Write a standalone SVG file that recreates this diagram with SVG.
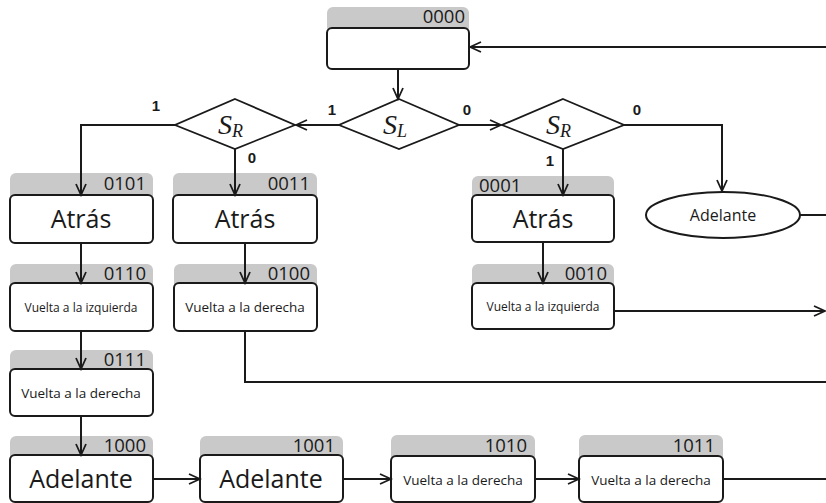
<svg xmlns="http://www.w3.org/2000/svg" width="826" height="503" viewBox="0 0 826 503">
  <style>
    .tab { fill: #c9c9c9; }
    .box { fill: #ffffff; stroke: #1a1a1a; stroke-width: 2; }
    .dia { fill: #ffffff; stroke: #1a1a1a; stroke-width: 1.8; }
    .code { font-family: "Open Sans", "Liberation Sans", sans-serif; font-size: 18.5px; fill: #1a1a1a; }
    .big { font-family: "Open Sans", "Liberation Sans", sans-serif; font-size: 25px; fill: #1a1a1a; text-anchor: middle; }
    .der { font-family: "Open Sans", "Liberation Sans", sans-serif; font-size: 13.5px; fill: #1a1a1a; text-anchor: middle; }
    .izq { font-family: "Open Sans", "Liberation Sans", sans-serif; font-size: 12px; fill: #1a1a1a; text-anchor: middle; }
    .mid { font-family: "Open Sans", "Liberation Sans", sans-serif; font-size: 16px; fill: #1a1a1a; text-anchor: middle; }
    .var { font-family: "Liberation Serif", serif; font-style: italic; fill: #1a1a1a; }
    .bit { font-family: "Liberation Sans", sans-serif; font-weight: bold; font-size: 15px; fill: #1a1a1a; text-anchor: middle; }
    .wire { fill: none; stroke: #1a1a1a; stroke-width: 2; }
  </style>
  <defs>
    <marker id="arrow" markerWidth="14" markerHeight="12" refX="12" refY="6" orient="auto" markerUnits="userSpaceOnUse">
      <path d="M1,1 L12,6 L1,11" fill="none" stroke="#1a1a1a" stroke-width="1.8"/>
    </marker>
  </defs>

  <rect width="826" height="503" fill="#ffffff"/>

  <!-- state 0000 -->
  <g id="s0000">
    <rect class="tab" x="327" y="7" width="142" height="26" rx="6"/>
    <rect class="box" x="327" y="28" width="142" height="41" rx="5"/>
    <text class="code" x="465" y="23" text-anchor="end">0000</text>
  </g>

  <!-- decision S_L -->
  <g id="dSL">
    <polygon class="dia" points="399,99 459,125 399,149 339,125"/>
    <text class="var" x="383" y="134" font-size="28">S<tspan font-size="18" dy="3">L</tspan></text>
  </g>

  <!-- decision S_R (left) -->
  <g id="dSR1">
    <polygon class="dia" points="235,99 295,125 235,149 175,125"/>
    <text class="var" x="218" y="134" font-size="28">S<tspan font-size="18" dy="3">R</tspan></text>
  </g>

  <!-- decision S_R (right) -->
  <g id="dSR2">
    <polygon class="dia" points="563,99 624,125 563,149 502,125"/>
    <text class="var" x="546" y="134" font-size="28">S<tspan font-size="18" dy="3">R</tspan></text>
  </g>

  <!-- column 1 -->
  <g id="s0101">
    <rect class="tab" x="10" y="173" width="143" height="28" rx="6"/>
    <rect class="box" x="10" y="195" width="143" height="48" rx="5"/>
    <text class="code" x="146" y="190" text-anchor="end">0101</text>
    <text class="big" x="81" y="228">Atrás</text>
  </g>
  <g id="s0110">
    <rect class="tab" x="10" y="264" width="143" height="26" rx="6"/>
    <rect class="box" x="10" y="283" width="143" height="48" rx="5"/>
    <text class="code" x="146" y="280" text-anchor="end">0110</text>
    <text class="izq" x="81" y="312">Vuelta a la izquierda</text>
  </g>
  <g id="s0111">
    <rect class="tab" x="10" y="350" width="143" height="26" rx="6"/>
    <rect class="box" x="10" y="369" width="143" height="47" rx="5"/>
    <text class="code" x="146" y="366" text-anchor="end">0111</text>
    <text class="der" x="81" y="398">Vuelta a la derecha</text>
  </g>
  <g id="s1000">
    <rect class="tab" x="10" y="436" width="143" height="26" rx="6"/>
    <rect class="box" x="10" y="455" width="143" height="47" rx="5"/>
    <text class="code" x="146" y="452" text-anchor="end">1000</text>
    <text class="big" x="81" y="488">Adelante</text>
  </g>

  <!-- column 2 -->
  <g id="s0011">
    <rect class="tab" x="173" y="173" width="144" height="28" rx="6"/>
    <rect class="box" x="173" y="195" width="144" height="48" rx="5"/>
    <text class="code" x="310" y="190" text-anchor="end">0011</text>
    <text class="big" x="245" y="228">Atrás</text>
  </g>
  <g id="s0100">
    <rect class="tab" x="174" y="264" width="143" height="26" rx="6"/>
    <rect class="box" x="174" y="283" width="143" height="48" rx="5"/>
    <text class="code" x="310" y="280" text-anchor="end">0100</text>
    <text class="der" x="245" y="312">Vuelta a la derecha</text>
  </g>

  <!-- column 3 -->
  <g id="s0001">
    <rect class="tab" x="472" y="176" width="142" height="26" rx="6"/>
    <rect class="box" x="472" y="195" width="142" height="47" rx="5"/>
    <text class="code" x="479" y="192">0001</text>
    <text class="big" x="543" y="228">Atrás</text>
  </g>
  <g id="s0010">
    <rect class="tab" x="472" y="264" width="142" height="26" rx="6"/>
    <rect class="box" x="472" y="283" width="142" height="46" rx="5"/>
    <text class="code" x="607" y="280" text-anchor="end">0010</text>
    <text class="izq" x="543" y="311">Vuelta a la izquierda</text>
  </g>

  <!-- forward output -->
  <g id="oAdelante">
    <ellipse class="box" cx="723" cy="215" rx="77" ry="23"/>
    <text class="mid" x="723" y="221">Adelante</text>
  </g>

  <!-- bottom row -->
  <g id="s1001">
    <rect class="tab" x="200" y="436" width="143" height="26" rx="6"/>
    <rect class="box" x="200" y="455" width="143" height="47" rx="5"/>
    <text class="code" x="335" y="452" text-anchor="end">1001</text>
    <text class="big" x="271" y="488">Adelante</text>
  </g>
  <g id="s1010">
    <rect class="tab" x="391" y="435" width="144" height="27" rx="6"/>
    <rect class="box" x="391" y="456" width="144" height="46" rx="5"/>
    <text class="code" x="527" y="452" text-anchor="end">1010</text>
    <text class="der" x="463" y="485">Vuelta a la derecha</text>
  </g>
  <g id="s1011">
    <rect class="tab" x="579" y="435" width="144" height="27" rx="6"/>
    <rect class="box" x="579" y="456" width="144" height="46" rx="5"/>
    <text class="code" x="715" y="452" text-anchor="end">1011</text>
    <text class="der" x="651" y="485">Vuelta a la derecha</text>
  </g>

  <!-- connectors, drawn over the node tabs -->
  <g id="connectors">
    <path class="wire" d="M826,47 H470" marker-end="url(#arrow)"/>
    <path class="wire" d="M398,69 V99" marker-end="url(#arrow)"/>
    <path class="wire" d="M339,125 H296" marker-end="url(#arrow)"/>
    <path class="wire" d="M459,125 H501" marker-end="url(#arrow)"/>
    <path class="wire" d="M175,125 H81 V195" marker-end="url(#arrow)"/>
    <path class="wire" d="M235,149 V195" marker-end="url(#arrow)"/>
    <path class="wire" d="M563,149 V195" marker-end="url(#arrow)"/>
    <path class="wire" d="M624,125 H722 V191" marker-end="url(#arrow)"/>
    <path class="wire" d="M800,215 H826"/>
    <path class="wire" d="M81,243 V283" marker-end="url(#arrow)"/>
    <path class="wire" d="M245,243 V283" marker-end="url(#arrow)"/>
    <path class="wire" d="M543,242 V283" marker-end="url(#arrow)"/>
    <path class="wire" d="M614,311 H825" marker-end="url(#arrow)"/>
    <path class="wire" d="M245,331 V382 H826"/>
    <path class="wire" d="M81,331 V369" marker-end="url(#arrow)"/>
    <path class="wire" d="M81,416 V455" marker-end="url(#arrow)"/>
    <path class="wire" d="M153,479 H200" marker-end="url(#arrow)"/>
    <path class="wire" d="M343,479 H391" marker-end="url(#arrow)"/>
    <path class="wire" d="M535,479 H579" marker-end="url(#arrow)"/>
    <path class="wire" d="M723,479 H826"/>
    <text class="bit" x="332" y="115">1</text>
    <text class="bit" x="467" y="115">0</text>
    <text class="bit" x="156" y="111">1</text>
    <text class="bit" x="252" y="163">0</text>
    <text class="bit" x="550" y="166">1</text>
    <text class="bit" x="637" y="115">0</text>
  </g>
</svg>
